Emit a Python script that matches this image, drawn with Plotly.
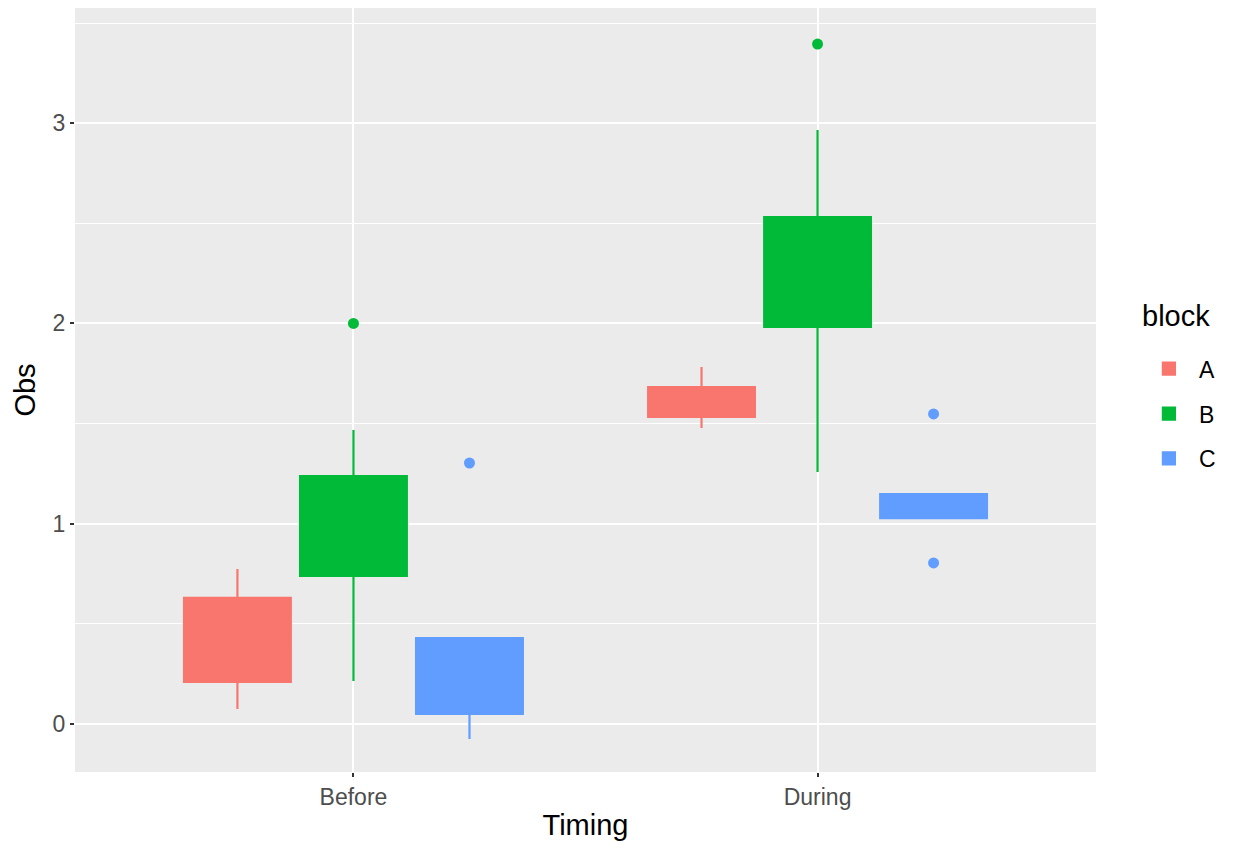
import plotly.graph_objects as go

timing = ["Before", "During"]
blocks = ["A", "B", "C"]
colors = {"A": "#F8766D", "B": "#00BA38", "C": "#619CFF"}

# box statistics per block: [Before, During]
q1 = {"A": [0.21, 1.533], "B": [0.739, 1.982], "C": [0.05, 1.028]}
median = {"A": [0.42, 1.60], "B": [1.00, 2.20], "C": [0.20, 1.10]}
q3 = {"A": [0.629, 1.682], "B": [1.238, 2.531], "C": [0.429, 1.148]}
lowerfence = {"A": [0.075, 1.478], "B": [0.215, 1.258], "C": [-0.075, 1.028]}
upperfence = {"A": [0.774, 1.782], "B": [1.468, 2.966], "C": [0.429, 1.148]}
outliers = {"A": [[], []], "B": [[2.0], [3.395]], "C": [[1.303], [1.548, 0.804]]}

FONT = "Liberation Sans, Arial, sans-serif"

fig = go.Figure()
for b in blocks:
    kw = {}
    if any(len(o) for o in outliers[b]):
        kw["y"] = outliers[b]
        kw["boxpoints"] = "outliers"
    else:
        kw["boxpoints"] = False
    fig.add_trace(go.Box(
        x=timing, name=b, legendgroup=b,
        q1=q1[b], median=median[b], q3=q3[b],
        lowerfence=lowerfence[b], upperfence=upperfence[b],
        fillcolor=colors[b],
        line=dict(color=colors[b], width=2.2),
        marker=dict(color=colors[b], size=11, line=dict(width=0)),
        whiskerwidth=0, jitter=0, pointpos=0,
        **kw,
    ))

grid = "#FFFFFF"
fig.update_layout(
    width=1217, height=834,
    margin=dict(l=67, r=129, t=0, b=70),
    paper_bgcolor="white", plot_bgcolor="#EBEBEB",
    boxmode="group", boxgap=0.25, boxgroupgap=0.08,
    font=dict(family=FONT, color="#000000"),
    legend=dict(
        font=dict(size=23, color="#000000"),
        x=1.042, xanchor="left", y=0.556, yanchor="top",
        bgcolor="rgba(0,0,0,0)", itemwidth=50,
        traceorder="grouped", tracegroupgap=12,
    ),
    annotations=[dict(
        text="block", xref="paper", yref="paper", x=1.043, y=0.597,
        xanchor="left", yanchor="middle", showarrow=False,
        font=dict(size=29, color="#000000"),
    )],
    xaxis=dict(
        type="category", range=[-0.6, 1.6],
        showgrid=True, gridcolor=grid, gridwidth=2,
        ticks="outside", ticklen=4, tickcolor="#333333", tickwidth=1.5,
        tickfont=dict(size=23, color="#4D4D4D"),
        title=dict(text="Timing", font=dict(size=29, color="#000000"), standoff=6),
        zeroline=False, showline=False,
    ),
    yaxis=dict(
        range=[-0.24, 3.575], tickvals=[0, 1, 2, 3],
        showgrid=True, gridcolor=grid, gridwidth=2,
        minor=dict(tick0=0.5, dtick=0.5, showgrid=True, gridcolor=grid, gridwidth=1),
        ticks="outside", ticklen=4, tickcolor="#333333", tickwidth=1.5,
        tickfont=dict(size=23, color="#4D4D4D"),
        title=dict(text="Obs", font=dict(size=29, color="#000000"), standoff=8),
        zeroline=False, showline=False,
    ),
)

fig.write_html("out.html")
